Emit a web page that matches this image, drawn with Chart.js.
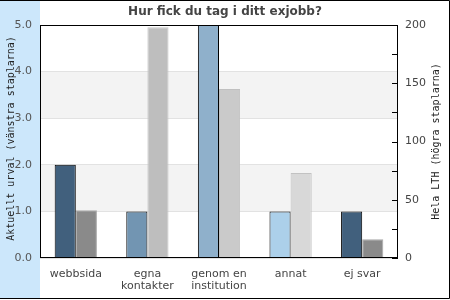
<!DOCTYPE html>
<html>
<head>
<meta charset="utf-8">
<script src="https://cdn.jsdelivr.net/npm/chart.js@4/dist/chart.umd.min.js"></script>
<style>
  body { margin: 0; background: #fff; }
  canvas { display: block; }
</style>
</head>
<body>
<canvas id="myChart" width="450" height="300"></canvas>
<script>
// kategorier och värden
const kategorier = [['webbsida'], ['egna', 'kontakter'], ['genom en', 'institution'], ['annat'], ['ej svar']];
const urval = [2, 1, 5, 1, 1];          // vänstra axeln
const helaLTH = [41, 198, 145, 73, 16];  // högra axeln
const vansterTicks = [0, 1, 2, 3, 4, 5];
const hogerTicks = [0, 50, 100, 150, 200];

const farg = ['#41607d', '#7295b2', '#8fb0cb', '#acd0ea', '#41607d'];
const gra = ['#8a8a8a', '#bebebe', '#cacaca', '#d8d8d8', '#8a8a8a'];
const graKant = ['#a8a8a8', '#c4c4c4', '#c0c0c0', '#c2c2c2', '#a8a8a8'];

// bakgrund, band, ram och axeltitlar
const bakgrund = {
  id: 'bakgrund',
  beforeDraw(chart) {
    const ctx = chart.ctx;
    const a = chart.chartArea;
    const y = chart.scales.y;
    ctx.save();
    ctx.fillStyle = '#cce7fb';
    ctx.fillRect(0, 0, 40, 298);
    ctx.fillStyle = '#f3f3f3';
    [[1, 2], [3, 4]].forEach(([lo, hi]) => {
      const y1 = y.getPixelForValue(hi);
      const y2 = y.getPixelForValue(lo);
      ctx.fillRect(a.left, y1, a.right - a.left, y2 - y1);
    });
    ctx.restore();
  },
  afterDraw(chart) {
    const ctx = chart.ctx;
    const a = chart.chartArea;
    const yR = chart.scales.yR;
    ctx.save();
    ctx.strokeStyle = '#000';
    ctx.lineWidth = 1;
    ctx.strokeRect(Math.round(a.left) + 0.5, Math.round(a.top) + 0.5,
      Math.round(a.right - a.left) - 1, Math.round(a.bottom - a.top) - 1);
    // små streck inåt på högra axeln
    ctx.beginPath();
    yR.ticks.forEach(t => {
      const py = Math.round(yR.getPixelForValue(t.value)) + 0.5;
      ctx.moveTo(a.right - 6, py);
      ctx.lineTo(a.right, py);
    });
    ctx.stroke();
    // yttre ram
    ctx.beginPath();
    ctx.moveTo(0, 0.5); ctx.lineTo(449.5, 0.5);
    ctx.lineTo(449.5, 298.5); ctx.lineTo(0, 298.5);
    ctx.stroke();
    // axeltitlar
    ctx.fillStyle = '#222';
    ctx.font = '10px "DejaVu Sans Mono"';
    ctx.textAlign = 'center';
    ctx.textBaseline = 'middle';
    const mitt = (a.top + a.bottom) / 2;
    ctx.translate(11.5, mitt - 3);
    ctx.rotate(-Math.PI / 2);
    ctx.fillText('Aktuellt urval (vänstra staplarna)', 0, 0);
    ctx.setTransform(1, 0, 0, 1, 0, 0);
    ctx.translate(436, mitt);
    ctx.rotate(-Math.PI / 2);
    ctx.fillText('Hela LTH (högra staplarna)', 0, 0);
    ctx.restore();
  }
};

const ctx = document.getElementById('myChart');
const myChart = new Chart(ctx, {
  type: 'bar',
  data: {
    labels: kategorier,
    datasets: [{
      label: 'Aktuellt urval',
      data: urval,
      yAxisID: 'y',
      backgroundColor: farg,
      borderColor: '#000',
      borderWidth: 1,
      categoryPercentage: 0.59,
      barPercentage: 1
    }, {
      label: 'Hela LTH',
      data: helaLTH,
      yAxisID: 'yR',
      backgroundColor: gra,
      borderColor: graKant,
      borderWidth: 1,
      categoryPercentage: 0.59,
      barPercentage: 1
    }]
  },
  options: {
    responsive: false,
    animation: false,
    events: [],
    layout: { padding: 0 },
    plugins: {
      legend: { display: false },
      tooltip: { enabled: false },
      title: {
        display: true,
        text: 'Hur fick du tag i ditt exjobb?',
        color: '#444',
        font: { family: 'DejaVu Sans', size: 12, weight: 'bold' },
        padding: { top: 5, bottom: 5.6 }
      }
    },
    scales: {
      x: {
        grid: { display: false, drawTicks: false },
        border: { display: false },
        ticks: {
          color: '#444',
          font: { family: 'DejaVu Sans', size: 11, lineHeight: 1.1 },
          padding: 10,
          maxRotation: 0,
          autoSkip: false
        },
        afterFit(s) { s.height = 42; }
      },
      y: {
        position: 'left',
        min: 0,
        max: 5,
        afterBuildTicks(s) { s.ticks = vansterTicks.map(v => ({ value: v })); },
        grid: { color: '#e2e2e2', drawTicks: false },
        border: { display: false },
        ticks: {
          color: '#555',
          font: { family: 'DejaVu Sans', size: 11 },
          padding: 8,
          callback: v => v.toFixed(1)
        },
        afterFit(s) { s.width = 40; }
      },
      yR: {
        position: 'right',
        min: 0,
        max: 200,
        ticks: {
          stepSize: 25,
          color: '#444',
          font: { family: 'DejaVu Sans', size: 11 },
          padding: 7,
          callback: v => hogerTicks.includes(v) ? String(v) : ''
        },
        grid: { display: false, drawTicks: false },
        border: { display: false },
        afterFit(s) { s.width = 52; }
      }
    }
  },
  plugins: [bakgrund]
});
</script>
</body>
</html>
